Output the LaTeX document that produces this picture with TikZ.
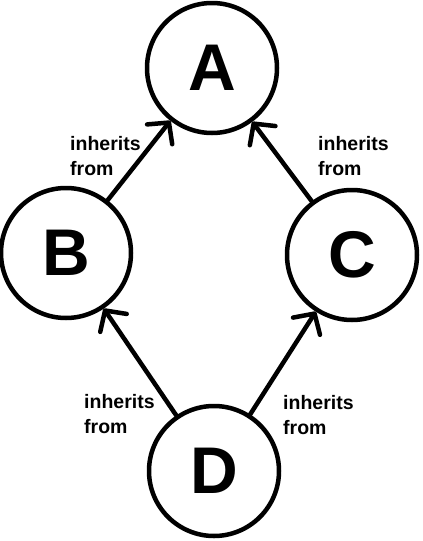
\documentclass[tikz,border=0pt]{standalone}
\usepackage{fontspec}
\setmainfont{Liberation Sans}
\usetikzlibrary{arrows.meta,positioning}

\begin{document}
\begin{tikzpicture}[
  x=1pt, y=1pt,
  cls/.style={draw, circle, line width=4.5pt, minimum size=130pt, inner sep=0pt,
    font=\fontsize{66}{70}\selectfont\bfseries},
  inh/.style={-{Straight Barb[length=15pt,width=32pt,round]}, line width=4.5pt, line cap=round},
  lbl/.style={anchor=north west, inner sep=0pt, align=left,
    font=\fontsize{19.5}{25}\selectfont\bfseries}
]
\useasboundingbox (0,0) rectangle (423,-541);
\node[cls] (a) at (212,-68) {A};
\node[cls] (b) at (66,-253) {B};
\node[cls] (c) at (352,-255) {C};
\node[cls] (d) at (214,-471) {D};
\draw[inh] (b) -- (a);
\draw[inh] (c) -- (a);
\draw[inh] (d) -- (b);
\draw[inh] (d) -- (c);
\node[lbl] (lba) at (70,-136) {inherits\\from};
\node[lbl] (lca) at (318,-136) {inherits\\from};
\node[lbl] (ldb) at (84,-394) {inherits\\from};
\node[lbl] (ldc) at (283,-395) {inherits\\from};
\end{tikzpicture}
\end{document}
